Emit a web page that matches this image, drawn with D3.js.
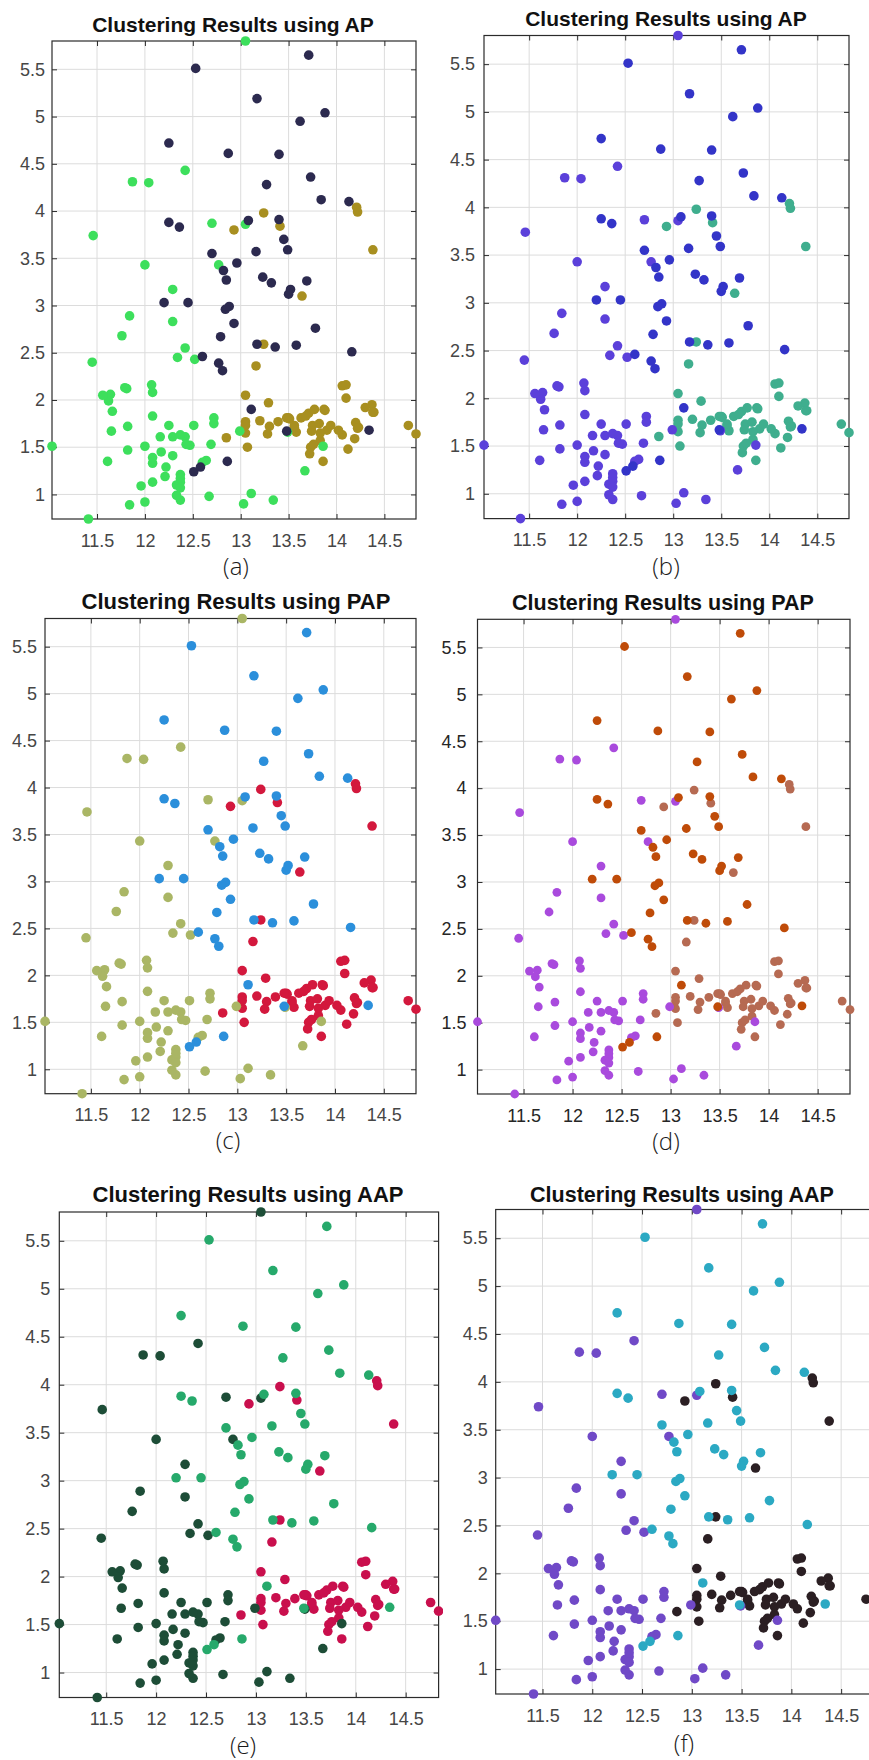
<!DOCTYPE html>
<html>
<head>
<meta charset="utf-8">
<script src="https://cdn.jsdelivr.net/npm/d3@7"></script>
<style>
  body { margin: 0; background: #fff; }
</style>
</head>
<body>
<div id="chart"></div>
<script>
// alcohol (x) vs malic acid (y), one pair of arrays per cluster found in the plots

// cluster 1 : bottom-right group (+ a few upper points)
const alcohol1 = [14.23, 13.2, 13.16, 14.37, 13.24, 14.2, 14.39, 14.06, 14.83, 13.86, 14.1, 14.12, 13.75, 14.75, 14.38,
    13.63, 14.3, 13.83, 14.19, 13.64, 14.06, 12.93, 13.71, 12.85, 13.5, 13.05, 13.39, 13.3, 13.87, 14.02, 13.73, 13.58,
    13.68, 13.76, 13.51, 13.48, 13.28, 13.05, 13.07, 14.22, 13.56, 13.41, 13.88, 13.24, 13.05, 14.21, 14.38, 13.9, 14.1,
    13.94, 13.05, 13.83, 13.82, 13.77, 13.74, 13.56, 14.22, 13.29, 13.72];
const malic1 = [1.71, 1.78, 2.36, 1.95, 2.59, 1.76, 1.87, 2.15, 1.64, 1.35, 2.16, 1.48, 1.73, 1.73, 1.87,
    1.81, 1.92, 1.57, 1.59, 3.1, 1.63, 3.8, 1.86, 1.6, 1.81, 2.05, 1.77, 1.72, 1.9, 1.68, 1.5, 1.66,
    1.83, 1.53, 1.8, 1.81, 1.64, 1.65, 1.5, 3.99, 1.71, 3.84, 1.89, 3.98, 1.77, 4.04, 3.59, 1.68, 2.02,
    1.73, 1.73, 1.65, 1.75, 1.9, 1.67, 1.73, 1.7, 1.97, 1.43];

// cluster 2 : left group
const alcohol2 = [12.37, 12.33, 12.64, 13.67, 12.37, 12.17, 12.37, 13.11, 12.37, 13.34, 12.21, 12.29, 13.86, 13.49, 12.99,
    11.96, 11.66, 13.03, 11.84, 12.33, 12.7, 12, 12.72, 12.08, 13.05, 11.84, 12.67, 12.16, 11.65, 11.64, 12.08, 12.08,
    12, 12.69, 12.29, 11.62, 12.47, 11.81, 12.29, 12.37, 12.29, 12.08, 12.6, 12.34, 11.82, 12.51, 12.42, 12.25, 12.72,
    12.22, 11.61, 11.46, 12.52, 11.76, 11.41, 12.08, 11.03, 11.82, 12.42, 12.77, 12, 11.45, 11.56, 12.42, 13.05, 11.87,
    12.07, 12.43, 11.79, 12.37, 12.04];
const malic2 = [0.94, 1.1, 1.36, 1.25, 1.13, 1.45, 1.21, 1.01, 1.17, 0.94, 1.19, 1.61, 1.51, 1.66, 1.67,
    1.09, 1.88, 0.9, 2.89, 0.99, 3.87, 0.92, 1.81, 1.13, 3.86, 0.89, 0.98, 1.61, 1.67, 2.06, 1.33, 1.83,
    1.51, 1.53, 2.83, 1.99, 1.52, 2.12, 1.41, 1.07, 3.17, 2.08, 1.34, 2.45, 1.72, 1.73, 2.55, 1.73, 1.75,
    1.29, 1.35, 3.74, 2.43, 2.68, 0.74, 1.39, 1.51, 1.47, 1.61, 3.43, 3.43, 2.4, 2.05, 4.43, 5.8, 4.31,
    2.16, 1.53, 2.13, 1.63, 4.3];

// cluster 3 : upper group
const alcohol3 = [12.86, 12.88, 12.81, 12.7, 12.51, 12.6, 12.25, 12.53, 13.49, 12.84, 12.93, 13.36, 13.52, 13.62, 12.25,
    13.16, 13.88, 12.87, 13.32, 13.08, 13.5, 12.79, 13.11, 13.23, 12.58, 13.17, 13.84, 12.45, 14.34, 13.48, 12.36, 13.69,
    12.85, 12.96, 13.78, 13.73, 13.45, 12.82, 13.58, 13.4, 12.2, 12.77, 14.16, 13.71, 13.4, 13.27, 13.17, 14.13];
const malic3 = [1.35, 2.99, 2.31, 3.55, 1.24, 2.46, 4.72, 5.51, 3.59, 2.96, 2.81, 2.56, 3.17, 4.95, 3.88,
    3.57, 5.04, 4.61, 3.24, 3.9, 3.12, 2.67, 1.9, 3.3, 1.29, 5.19, 4.12, 3.03, 1.68, 1.67, 3.83, 3.26,
    3.27, 3.45, 2.76, 4.36, 3.7, 3.37, 2.58, 4.6, 3.03, 2.39, 2.51, 5.65, 3.91, 4.28, 2.59, 4.1];

const xTicks = [11.5, 12, 12.5, 13, 13.5, 14, 14.5];
const yTicks = [1, 1.5, 2, 2.5, 3, 3.5, 4, 4.5, 5, 5.5];

const titles = ["Clustering Results using AP", "Clustering Results using AP",
    "Clustering Results using PAP", "Clustering Results using PAP",
    "Clustering Results using AAP", "Clustering Results using AAP"];
const letters = ["(a)", "(b)", "(c)", "(d)", "(e)", "(f)"];

// colours per panel, in cluster order 1, 2, 3
const clusterColors = [
    ["#a88f20", "#3ddf5c", "#2c2a4f"],
    ["#3fae8e", "#5b40da", "#3334c8"],
    ["#d3183d", "#aab665", "#2b8fdb"],
    ["#b66a52", "#a94add", "#bf4b08"],
    ["#c90f4d", "#1d4d37", "#26a96b"],
    ["#2b1f23", "#7049c7", "#2ba9c3"]
];

// where each sub-figure sits on the page
const layout = [
    {l: 52, r: 416, t: 41, b: 519, tx: 233, ty: 32, ts: 21, lx: 236, ly: 575, gap: 7, tc: "#464646", rad: 4.8},
    {l: 484, r: 849, t: 35.5, b: 518.6, tx: 666, ty: 26, ts: 21, lx: 666, ly: 575, gap: 9, tc: "#464646", rad: 4.8},
    {l: 45, r: 416, t: 618.5, b: 1093.7, tx: 236, ty: 609, ts: 22, lx: 228, ly: 1149, gap: 8, tc: "#464646", rad: 4.8},
    {l: 477.5, r: 850, t: 619.3, b: 1094, tx: 663, ty: 610, ts: 21.5, lx: 666, ly: 1150, gap: 11, tc: "#262626", rad: 4.4},
    {l: 59.3, r: 438.6, t: 1212, b: 1697.5, tx: 248, ty: 1202, ts: 22, lx: 243, ly: 1754, gap: 9, tc: "#464646", rad: 4.8, clip: 443},
    {l: 495.7, r: 874, t: 1209.5, b: 1694, tx: 682, ty: 1202, ts: 21.5, lx: 684, ly: 1752, gap: 8, tc: "#464646", rad: 4.8, clip: 869}
];

const W = 869, H = 1760;
const groups = [
    {x: alcohol1, y: malic1},
    {x: alcohol2, y: malic2},
    {x: alcohol3, y: malic3}
];

// axis limits are tight to the data, like the original
const xDomain = d3.extent(alcohol1.concat(alcohol2, alcohol3));
const yDomain = d3.extent(malic1.concat(malic2, malic3));

const svg = d3.select("#chart")
    .append("svg")
    .attr("width", W)
    .attr("height", H)
    .style("font-family", "'Liberation Sans', Arial, sans-serif");

const defs = svg.append("defs");
const gridColor = "#dcdcdc";
const axisColor = "#2b2b2b";

layout.forEach((p, i) => {
    const g = svg.append("g");
    if (p.clip) {
        defs.append("clipPath").attr("id", "clip" + i)
            .append("rect").attr("x", 0).attr("y", p.t - 80).attr("width", p.clip).attr("height", p.b - p.t + 160);
        g.attr("clip-path", `url(#clip${i})`);
    }

    const x = d3.scaleLinear().domain(xDomain).range([p.l, p.r]);
    const y = d3.scaleLinear().domain(yDomain).range([p.b, p.t]);

    // grid
    g.append("g").selectAll("line")
        .data(xTicks)
        .join("line")
            .attr("x1", d => x(d)).attr("x2", d => x(d))
            .attr("y1", p.t).attr("y2", p.b)
            .attr("stroke", gridColor);
    g.append("g").selectAll("line")
        .data(yTicks)
        .join("line")
            .attr("x1", p.l).attr("x2", p.r)
            .attr("y1", d => y(d)).attr("y2", d => y(d))
            .attr("stroke", gridColor);

    const fmt = d => String(d);
    const styleAxis = a => {
        a.select(".domain").remove();
        a.attr("font-family", null).attr("font-size", 18);
        a.selectAll("line").attr("stroke", axisColor);
        a.selectAll("text").attr("fill", p.tc);
    };

    // axes with inward ticks on all four sides
    g.append("g")
        .attr("transform", `translate(0, ${p.b})`)
        .call(d3.axisBottom(x).tickValues(xTicks).tickFormat(fmt).tickSizeInner(-5).tickSizeOuter(0).tickPadding(15))
        .call(styleAxis);
    g.append("g")
        .attr("transform", `translate(${p.l}, 0)`)
        .call(d3.axisLeft(y).tickValues(yTicks).tickFormat(fmt).tickSizeInner(-5).tickSizeOuter(0).tickPadding(p.gap))
        .call(styleAxis);
    g.append("g")
        .attr("transform", `translate(0, ${p.t})`)
        .call(d3.axisTop(x).tickValues(xTicks).tickFormat("").tickSizeInner(-5).tickSizeOuter(0))
        .call(styleAxis);
    g.append("g")
        .attr("transform", `translate(${p.r}, 0)`)
        .call(d3.axisRight(y).tickValues(yTicks).tickFormat("").tickSizeInner(-5).tickSizeOuter(0))
        .call(styleAxis);

    g.append("rect")
        .attr("x", p.l).attr("y", p.t)
        .attr("width", p.r - p.l).attr("height", p.b - p.t)
        .attr("fill", "none")
        .attr("stroke", axisColor)
        .attr("stroke-width", 1.2);

    // points, cluster by cluster
    groups.forEach((grp, k) => {
        g.append("g").selectAll("circle")
            .data(d3.range(grp.x.length))
            .join("circle")
                .attr("cx", j => x(grp.x[j]))
                .attr("cy", j => y(grp.y[j]))
                .attr("r", p.rad)
                .attr("fill", clusterColors[i][k]);
    });

    g.append("text")
        .attr("x", p.tx).attr("y", p.ty)
        .attr("text-anchor", "middle")
        .attr("font-weight", "bold")
        .attr("font-size", p.ts)
        .attr("fill", "#111")
        .text(titles[i]);

    svg.append("text")
        .attr("x", p.lx).attr("y", p.ly)
        .attr("text-anchor", "middle")
        .attr("font-family", "'Open Sans', 'Noto Sans', sans-serif")
        .attr("font-weight", 300)
        .attr("font-size", 24)
        .attr("fill", "#1a1a1a")
        .text(letters[i]);
});
</script>
</body>
</html>
